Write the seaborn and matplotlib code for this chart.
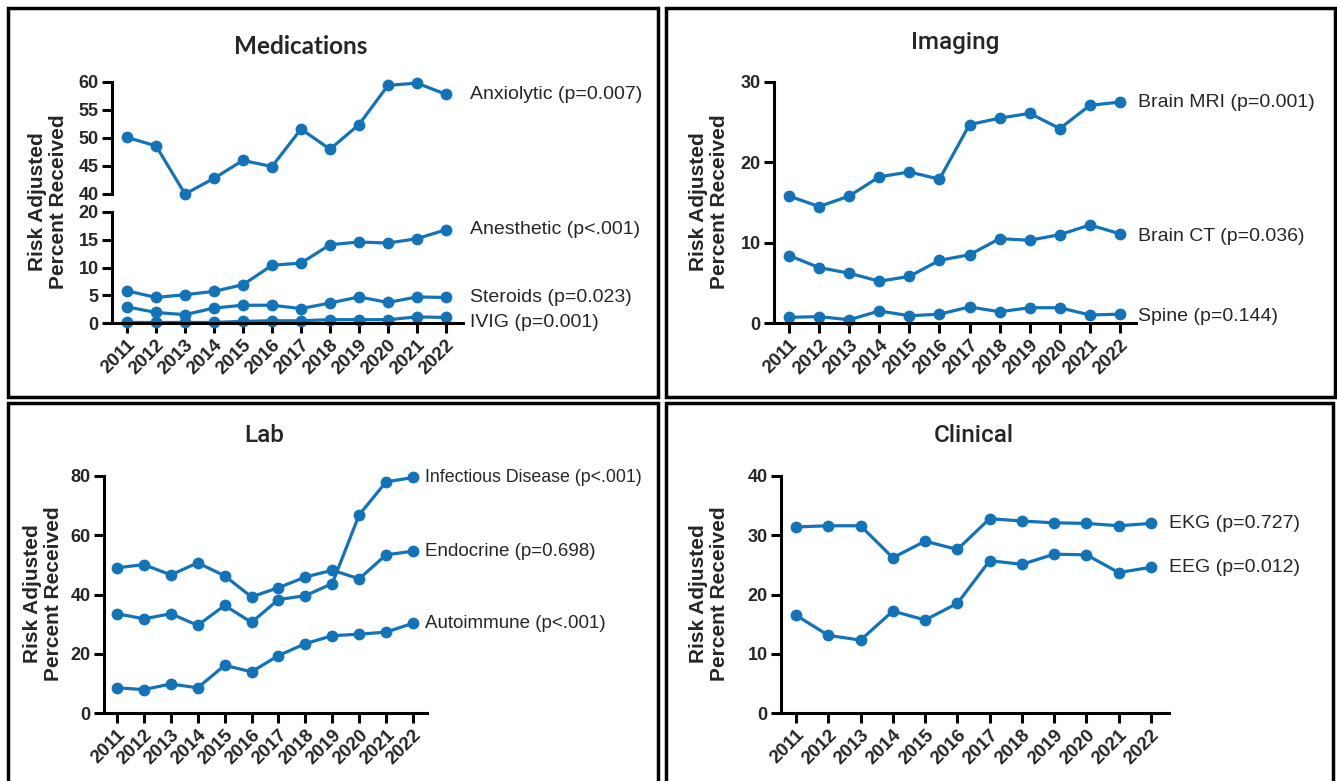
import matplotlib
matplotlib.use("Agg")
import matplotlib.pyplot as plt
import pandas as pd
import seaborn as sns
from matplotlib.patches import Rectangle

# ── Data ──────────────────────────────────────────────────────────────────────
years = list(range(2011, 2023))

anxiolytic = [50.1, 48.6, 40.0, 42.8, 46.0, 44.9, 51.6, 48.0, 52.4, 59.4, 59.8, 57.8]
anesthetic = [5.8, 4.6, 5.1, 5.7, 6.9, 10.4, 10.8, 14.1, 14.6, 14.4, 15.2, 16.8]
steroids = [2.9, 1.9, 1.5, 2.7, 3.2, 3.2, 2.6, 3.6, 4.7, 3.7, 4.7, 4.6]
ivig = [0.1, 0.1, 0.1, 0.1, 0.3, 0.4, 0.4, 0.6, 0.6, 0.6, 1.1, 1.0]

brain_mri = [15.8, 14.5, 15.8, 18.2, 18.8, 17.9, 24.7, 25.5, 26.1, 24.2, 27.1, 27.5]
brain_ct = [8.4, 6.9, 6.2, 5.2, 5.8, 7.8, 8.5, 10.5, 10.3, 11.0, 12.2, 11.1]
spine = [0.7, 0.8, 0.4, 1.5, 0.9, 1.1, 2.0, 1.4, 1.9, 1.9, 1.0, 1.1]

infectious = [33.5, 31.8, 33.5, 29.6, 36.3, 30.6, 38.3, 39.6, 43.7, 66.9, 78.0, 79.5]
endocrine = [49.0, 50.1, 46.6, 50.7, 46.3, 39.2, 42.3, 45.9, 48.2, 45.3, 53.4, 54.6]
autoimmune = [8.5, 7.9, 9.8, 8.5, 16.1, 13.9, 19.4, 23.4, 26.1, 26.6, 27.3, 30.3]

ekg = [31.4, 31.6, 31.6, 26.2, 29.0, 27.6, 32.8, 32.4, 32.1, 32.0, 31.6, 32.0]
eeg = [16.5, 13.1, 12.3, 17.2, 15.7, 18.5, 25.7, 25.1, 26.8, 26.7, 23.7, 24.6]

# ── Style ─────────────────────────────────────────────────────────────────────
sns.set_theme(style="ticks")
plt.rcParams["font.family"] = ["Liberation Sans", "DejaVu Sans"]

BLUE = "#1273b8"
W, H = 1337, 781
YLABEL = "Risk Adjusted\nPercent Received"
YTICK_FS = 13
XTICK_FS = 13.5

fig = plt.figure(figsize=(W / 100, H / 100), dpi=100)


def px_axes(left, top, right, bottom):
    return fig.add_axes([left / W, 1 - bottom / H, (right - left) / W, (bottom - top) / H])


def style_axes(ax, x0_px, x1_px, spine_px, end_px, show_x=True):
    # x-limits so that 2011/2022 land where the reference has them
    per = (x1_px - x0_px) / 11
    ax.set_xlim(2011 - (x0_px - spine_px) / per, 2022 + (end_px - x1_px) / per)
    for s in ("top", "right"):
        ax.spines[s].set_visible(False)
    for s in ("left", "bottom"):
        ax.spines[s].set_linewidth(2.2)
        ax.spines[s].set_color("black")
    ax.tick_params(axis="both", length=7.5, width=2.2, color="black",
                   labelsize=YTICK_FS, pad=2)
    for lab in ax.get_yticklabels():
        lab.set_fontweight("bold")
    if show_x:
        ax.set_xticks(years)
        ax.set_xticklabels([str(y) for y in years], rotation=45, ha="right",
                           rotation_mode="anchor", fontweight="bold",
                           fontsize=XTICK_FS)
    else:
        ax.spines["bottom"].set_visible(False)
        ax.set_xticks([])
    ax.set_xlabel("")
    ax.set_ylabel("")
    ax.set_facecolor("none")


def draw_series(ax, values):
    df = pd.DataFrame({"Year": years, "Value": values})
    sns.lineplot(data=df, x="Year", y="Value", ax=ax, color=BLUE, linewidth=2.3,
                 marker="o", markersize=8.5, markeredgewidth=0, clip_on=False)


def label_end(ax, values, text, dx, dy=0, fs=14):
    ax.annotate(text, xy=(years[-1], values[-1]), xytext=(dx, dy),
                textcoords="offset pixels", va="center", ha="left",
                fontsize=fs, annotation_clip=False)


# ── Medications (broken y axis) ───────────────────────────────────────────────
med_top = px_axes(112, 82, 463, 194)
med_bot = px_axes(112, 212, 463, 323)
draw_series(med_top, anxiolytic)
for vals in (anesthetic, steroids, ivig):
    draw_series(med_bot, vals)
med_top.set_ylim(40, 60)
med_top.set_yticks([40, 45, 50, 55, 60])
med_bot.set_ylim(0, 20)
med_bot.set_yticks([0, 5, 10, 15, 20])
style_axes(med_top, 127, 446, 112, 463, show_x=False)
style_axes(med_bot, 127, 446, 112, 463)
label_end(med_top, anxiolytic, "Anxiolytic (p=0.007)", 24)
label_end(med_bot, anesthetic, "Anesthetic (p<.001)", 24)
label_end(med_bot, steroids, "Steroids (p=0.023)", 24)
label_end(med_bot, ivig, "IVIG (p=0.001)", 24, -5)

# ── Imaging ───────────────────────────────────────────────────────────────────
img = px_axes(774, 82, 1136, 323)
for vals in (brain_mri, brain_ct, spine):
    draw_series(img, vals)
img.set_ylim(0, 30)
img.set_yticks([0, 10, 20, 30])
style_axes(img, 789, 1120, 774, 1136)
label_end(img, brain_mri, "Brain MRI (p=0.001)", 18)
label_end(img, brain_ct, "Brain CT (p=0.036)", 18, -3)
label_end(img, spine, "Spine (p=0.144)", 18, -2)

# ── Lab ───────────────────────────────────────────────────────────────────────
lab = px_axes(104, 476, 427, 713)
for vals in (infectious, endocrine, autoimmune):
    draw_series(lab, vals)
lab.set_ylim(0, 80)
lab.set_yticks([0, 20, 40, 60, 80])
style_axes(lab, 117, 413, 104, 427)
label_end(lab, infectious, "Infectious Disease (p<.001)", 12, fs=12.8)
label_end(lab, endocrine, "Endocrine (p=0.698)", 12, fs=13.5)
label_end(lab, autoimmune, "Autoimmune (p<.001)", 12, fs=13.5)

# ── Clinical ──────────────────────────────────────────────────────────────────
cli = px_axes(781, 476, 1169, 713)
for vals in (ekg, eeg):
    draw_series(cli, vals)
cli.set_ylim(0, 40)
cli.set_yticks([0, 10, 20, 30, 40])
style_axes(cli, 796, 1151, 781, 1169)
label_end(cli, ekg, "EKG (p=0.727)", 18)
label_end(cli, eeg, "EEG (p=0.012)", 18)

# ── Titles, y labels, panel frames ────────────────────────────────────────────
fig.text(301 / W, 1 - 47 / H, "Medications", ha="center", va="center",
         fontsize=17.5, fontweight="bold", family=["Lato", "Liberation Sans"])
for x, y, t in ((955, 43, "Imaging"), (264, 435, "Lab"), (974, 435, "Clinical")):
    fig.text(x / W, 1 - y / H, t, ha="center", va="center", fontsize=17.5,
             fontweight="medium", family=["Roboto", "Liberation Sans"])

for x, y in ((48, 202), (709, 202), (43, 594), (709, 594)):
    fig.text(x / W, 1 - y / H, YLABEL, ha="center", va="center", rotation=90,
             fontsize=15, fontweight="bold", linespacing=1.1)

for (l, t, r, b) in ((8, 8, 658, 397), (666, 8, 1335, 397),
                     (8, 403, 658, 790), (666, 403, 1333, 790)):
    fig.patches.append(Rectangle((l / W, 1 - b / H), (r - l) / W, (b - t) / H,
                                 transform=fig.transFigure, fill=False,
                                 edgecolor="black", linewidth=2.5))

fig.savefig("out.png", dpi=100, facecolor="white")
